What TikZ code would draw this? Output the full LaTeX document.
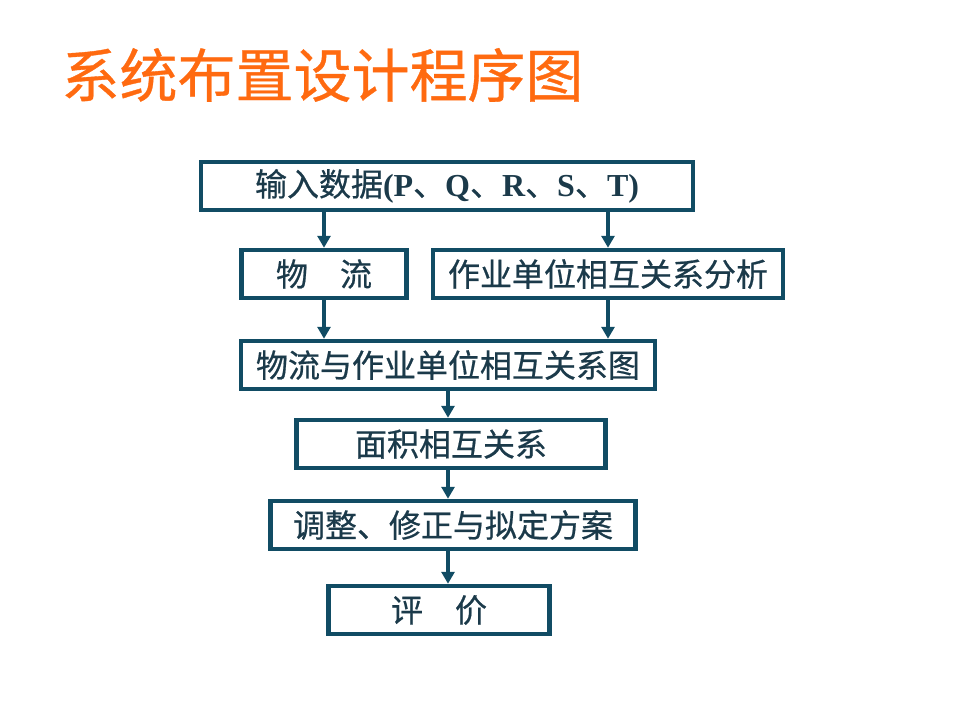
\documentclass[tikz,border=0pt]{standalone}
\usepackage{fontspec}
\usepackage{tikz}
\usetikzlibrary{arrows.meta}
\usetikzlibrary{positioning}
\newfontfamily\cjk[FakeBold=0.6]{Noto Sans CJK SC}
\newfontfamily\latinbold{Liberation Serif Bold}
\definecolor{titleorange}{HTML}{FF6A10}
\definecolor{boxline}{HTML}{114C64}
\definecolor{boxtext}{HTML}{1B3A4A}
\tikzset{stepbox/.style = {draw = boxline, line width = 4.5pt, fill = white,
                           minimum height = 48pt, inner sep = 0,
                           text = boxtext, font = \cjk\fontsize{32}{32}\selectfont}}
\tikzset{flowarr/.style = {draw = boxline, line width = 4pt,
                           -{Triangle[length = 12pt, width = 13pt]}}}

\begin{document}
\begin{tikzpicture}[x = 1pt, y = -1pt]
      \useasboundingbox [fill = white] (0, 0) rectangle (960, 720);

      \node [anchor = west, text = titleorange, font = \cjk\fontsize{58}{58}\selectfont]
        (title) at (58, 75) {系统布置设计程序图};

      \node [stepbox, minimum width = 492pt] (input) at (447, 186)
        {输入数据\latinbold(P\cjk 、\latinbold Q\cjk 、\latinbold R\cjk 、\latinbold S\cjk 、\latinbold T)};
      \node [stepbox, minimum width = 165pt] (flow) at (324, 274) {物　流};
      \node [stepbox, minimum width = 350pt] (rel) at (608, 274) {作业单位相互关系分析};
      \node [stepbox, minimum width = 414pt] (chart) at (448, 365) {物流与作业单位相互关系图};
      \node [stepbox, minimum width = 309pt] (area) at (451, 444) {面积相互关系};
      \node [stepbox, minimum width = 365pt] (adjust) at (453, 525) {调整、修正与拟定方案};
      \node [stepbox, minimum width = 221pt] (eval) at (439, 610) {评　价};

      \draw [flowarr] (flow.north |- input.south) -- (flow.north);
      \draw [flowarr] (rel.north |- input.south) -- (rel.north);
      \draw [flowarr] (flow.south) -- (flow.south |- chart.north);
      \draw [flowarr] (rel.south) -- (rel.south |- chart.north);
      \draw [flowarr] (chart.south) -- (chart.south |- area.north);
      \draw [flowarr] (area.south -| chart.south) -- (adjust.north -| chart.south);
      \draw [flowarr] (adjust.south -| chart.south) -- (eval.north -| chart.south);
    \end{tikzpicture}
\end{document}
